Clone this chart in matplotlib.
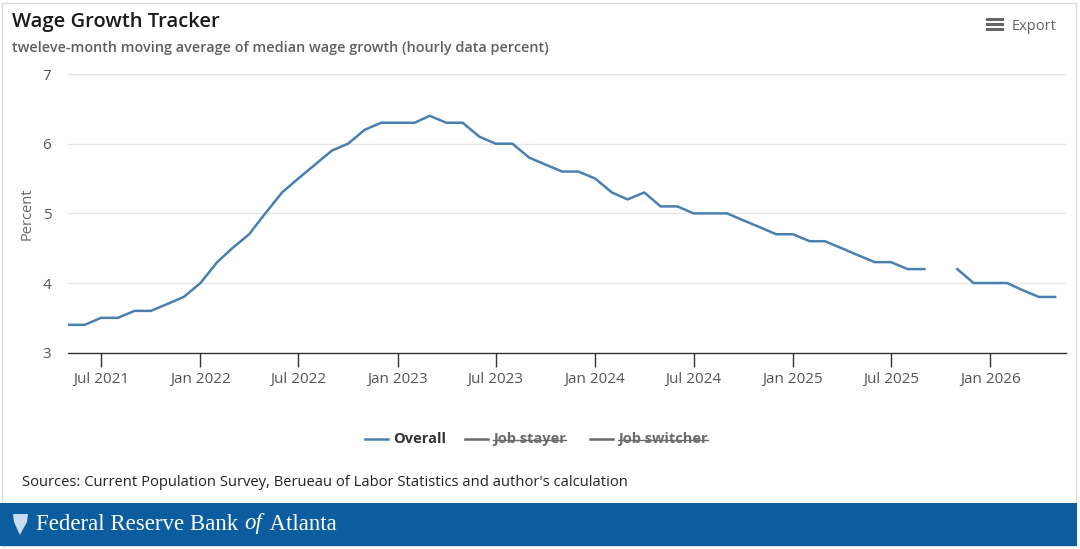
import datetime as dt
import numpy as np
import pandas as pd
import matplotlib
matplotlib.use("Agg")
import matplotlib.pyplot as plt
import matplotlib.dates as mdates
from matplotlib.lines import Line2D
from matplotlib.patches import Rectangle, Polygon

# monthly data, May 2021 - May 2026 (Oct 2025 missing)
months = pd.date_range("2021-05-01", periods=61, freq="MS")
overall = [
    3.4, 3.4, 3.5, 3.5, 3.6, 3.6, 3.7, 3.8,
    4.0, 4.3, 4.5, 4.7, 5.0, 5.3, 5.5, 5.7, 5.9, 6.0, 6.2, 6.3,
    6.3, 6.3, 6.4, 6.3, 6.3, 6.1, 6.0, 6.0, 5.8, 5.7, 5.6, 5.6,
    5.5, 5.3, 5.2, 5.3, 5.1, 5.1, 5.0, 5.0, 5.0, 4.9, 4.8, 4.7,
    4.7, 4.6, 4.6, 4.5, 4.4, 4.3, 4.3, 4.2, 4.2, np.nan, 4.2, 4.0,
    4.0, 4.0, 3.9, 3.8, 3.8,
]
legend_names = ["Overall", "Job stayer", "Job switcher"]
y_ticks = [3, 4, 5, 6, 7]

W, H = 1080, 549
LINE_COLOR = "#4a80b0"
HIDDEN = "#6b6b6b"
BAND = "#0b5d9f"

plt.rcParams["font.family"] = ["Open Sans", "DejaVu Sans"]


def px(x, y):
    return x / W, 1 - y / H


fig = plt.figure(figsize=(W / 100, H / 100), dpi=100, facecolor="white")

# card border + footer band
fig.add_artist(Rectangle(px(2, 546), 1074 / W, 543 / H, transform=fig.transFigure,
                         facecolor="none", edgecolor="#dcdcdc", linewidth=1))
fig.add_artist(Rectangle(px(0, 546), 1077 / W, 43 / H, transform=fig.transFigure,
                         facecolor=BAND, edgecolor="none"))

fig.text(*px(12, 22), "Wage Growth Tracker", fontsize=14.5, color="#1a1a1a",
         fontweight="semibold", va="center", ha="left")
fig.text(*px(12, 48), "tweleve-month moving average of median wage growth (hourly data percent)",
         fontsize=10.4, color="#5f5f5f", fontweight="semibold", va="center", ha="left")

# export button
for yy in (19, 24, 29):
    fig.add_artist(Line2D([987 / W, 1002 / W], [1 - yy / H] * 2, color="#666666",
                          linewidth=2.2, transform=fig.transFigure))
fig.text(*px(1012, 27), "Export", fontsize=10.5, color="#666666", va="center", ha="left")

# main axes
ax = fig.add_axes((68 / W, 1 - 352.7 / H, 998 / W, 278.7 / H))
ax.plot(months, overall, color=LINE_COLOR, linewidth=1.8, solid_joinstyle="round")
ax.set_xlim(dt.date(2021, 5, 1), dt.date(2026, 5, 21))
ax.set_ylim(3, 7)
ax.set_yticks(y_ticks)
ax.grid(axis="y", color="#e6e6e6", linewidth=1)
ax.set_axisbelow(True)
for side in ("top", "right", "left"):
    ax.spines[side].set_visible(False)
ax.spines["bottom"].set_color("#333333")
ax.spines["bottom"].set_linewidth(1)
ax.xaxis.set_major_locator(mdates.MonthLocator(bymonth=[1, 7]))
ax.xaxis.set_major_formatter(mdates.DateFormatter("%b %Y"))
ax.tick_params(axis="x", length=10, width=1, color="#333333", labelsize=11,
               labelcolor="#555555", pad=4)
ax.tick_params(axis="y", length=0, labelsize=11, labelcolor="#555555", pad=12)
ax.set_ylabel("Percent", fontsize=10.5, color="#666666", labelpad=6)

# legend (hidden series struck through)
fig.canvas.draw()
renderer = fig.canvas.get_renderer()
legend_x = [365, 465, 590]
legend_y = 439
for i, (name, x0) in enumerate(zip(legend_names, legend_x)):
    col = LINE_COLOR if i == 0 else HIDDEN
    fig.add_artist(Line2D([x0 / W, (x0 + 23) / W], [1 - legend_y / H] * 2,
                          color=col, linewidth=1.8, transform=fig.transFigure))
    t = fig.text(*px(x0 + 28, legend_y), name, fontsize=10.5, fontweight="bold",
                 color="#333333" if i == 0 else "#6b6b6b", va="center", ha="left")
    if i > 0:
        bb = t.get_window_extent(renderer)
        fig.add_artist(Line2D([bb.x0 / W, bb.x1 / W], [1 - (legend_y + 1) / H] * 2,
                              color="#6b6b6b", linewidth=1, transform=fig.transFigure))

fig.text(*px(22, 483), "Sources: Current Population Survey, Berueau of Labor Statistics and author's calculation",
         fontsize=10.6, color="#222222", va="center", ha="left")

# footer emblem + name (with italic "of")
emblem = [(13, 514), (28, 514), (27, 522), (22, 531), (20, 535), (18, 531), (14, 522)]
fig.add_artist(Polygon([px(x, y) for x, y in emblem], closed=True, transform=fig.transFigure,
                       facecolor="#c9dbee", edgecolor="none"))
x_cur = 36
for part, style in [("Federal Reserve Bank ", "normal"), ("of", "italic"), (" Atlanta", "normal")]:
    t = fig.text(*px(x_cur, 524), part, fontsize=16.5, family="Liberation Serif",
                 style=style, color="white", va="center", ha="left")
    bb = t.get_window_extent(renderer)
    x_cur += bb.width + (3 if style == "italic" else 0)

fig.savefig("out.png", dpi=100, facecolor="white")
